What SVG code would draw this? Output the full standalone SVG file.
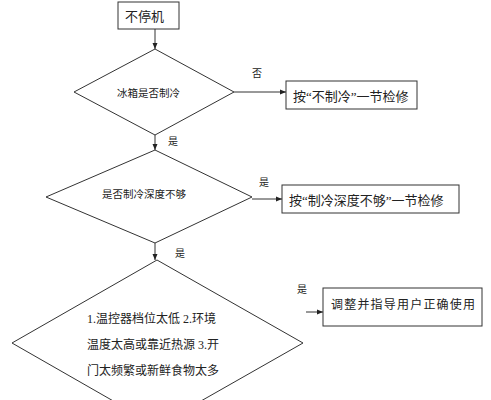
<svg xmlns="http://www.w3.org/2000/svg" width="491" height="400" viewBox="0 0 491 400">
<style>
.shape{fill:#fff;stroke:#333;stroke-width:1}
.line{fill:none;stroke:#333;stroke-width:1}
text{font-family:"Liberation Serif","Noto Sans CJK SC",serif;fill:#222}
.lbl{font-size:10px}
</style>
<defs>
<marker id="arr" markerWidth="6" markerHeight="6" refX="6" refY="3" orient="auto" markerUnits="userSpaceOnUse">
<path d="M0,0.5 L6,3 L0,5.5 Z" fill="#222"/>
</marker>
</defs>
<rect width="491" height="400" fill="#fff"/>
<g id="connectors">
<line class="line" x1="155" y1="29" x2="155" y2="49" marker-end="url(#arr)"/>
<line class="line" x1="155" y1="135" x2="155" y2="150" marker-end="url(#arr)"/>
<line class="line" x1="155" y1="243" x2="155" y2="260" marker-end="url(#arr)"/>
<line class="line" x1="234" y1="92" x2="286" y2="92" marker-end="url(#arr)"/>
<line class="line" x1="252" y1="199" x2="282" y2="199" marker-end="url(#arr)"/>
<line class="line" x1="306" y1="312" x2="323" y2="312" marker-end="url(#arr)"/>
<text class="lbl" x="252" y="77">否</text>
<text class="lbl" x="168" y="145">是</text>
<text class="lbl" x="259" y="186">是</text>
<text class="lbl" x="175" y="257">是</text>
<text class="lbl" x="297" y="293">是</text>
</g>
<g id="start">
<rect class="shape" x="118" y="2" width="61" height="27"/>
<text x="125" y="21" font-size="13">不停机</text>
</g>
<g id="d1">
<polygon class="shape" points="155,49 234,92 155,135 74,92"/>
<text x="117" y="97" font-size="10.5">冰箱是否制冷</text>
</g>
<g id="b1">
<rect class="shape" x="286" y="81" width="131" height="28"/>
<text x="293" y="101" font-size="13">按“不制冷”一节检修</text>
</g>
<g id="d2">
<polygon class="shape" points="155,150 252,197 155,243 46,197"/>
<text x="102" y="198" font-size="10.5">是否制冷深度不够</text>
</g>
<g id="b2">
<rect class="shape" x="282" y="185" width="177" height="28"/>
<text x="289" y="205" font-size="13">按“制冷深度不够”一节检修</text>
</g>
<g id="d3">
<polygon class="shape" points="157,260 303,343 157,426 12,343"/>
<text font-size="12"><tspan x="87" y="323">1.温控器档位太低 2.环境</tspan><tspan x="87" y="349">温度太高或靠近热源 3.开</tspan><tspan x="87" y="375">门太频繁或新鲜食物太多</tspan></text>
</g>
<g id="b3">
<rect class="shape" x="323" y="288" width="159" height="38"/>
<text x="331" y="309" font-size="12" letter-spacing="1.2">调整并指导用户正确使用</text>
</g>
</svg>
